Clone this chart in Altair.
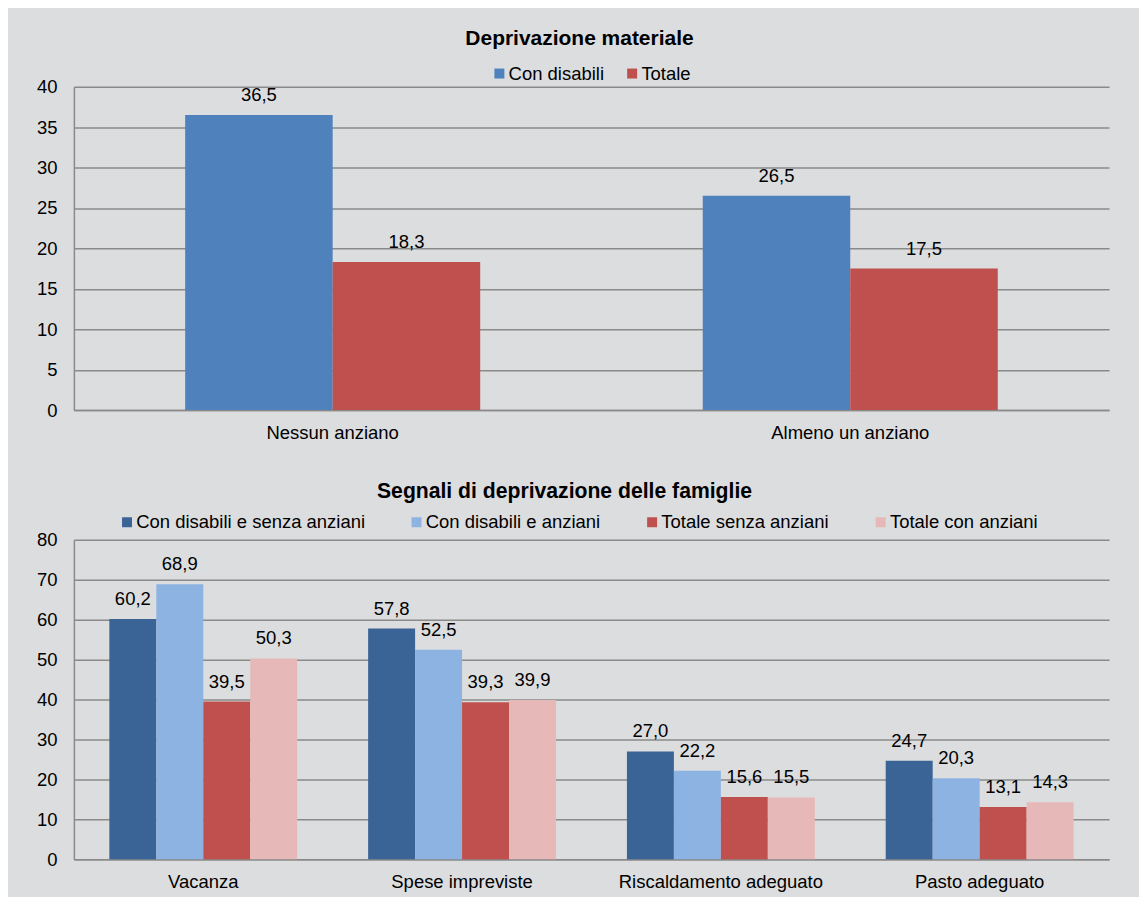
import altair as alt
import pandas as pd

# ---- data ----
top_categories = ["Nessun anziano", "Almeno un anziano"]
top_series = ["Con disabili", "Totale"]
top_con_disabili = [36.5, 26.5]
top_totale = [18.3, 17.5]

bot_categories = ["Vacanza", "Spese impreviste", "Riscaldamento adeguato", "Pasto adeguato"]
bot_series = ["Con disabili e senza anziani", "Con disabili e anziani",
              "Totale senza anziani", "Totale con anziani"]
bot_con_disabili_senza = [60.2, 57.8, 27.0, 24.7]
bot_con_disabili_anziani = [68.9, 52.5, 22.2, 20.3]
bot_totale_senza = [39.5, 39.3, 15.6, 13.1]
bot_totale_con = [50.3, 39.9, 15.5, 14.3]

top_colors = ["#4f81bd", "#c0504d"]
bot_colors = ["#3a6396", "#8db3e2", "#c0504d", "#e6b9b8"]

FONT = "Liberation Sans"
FS = 18.5
GRID = "#8a8a8a"
BG = "#dcdddf"


def make_df(cats, series, columns):
    rows = []
    for s, vals in zip(series, columns):
        for c, v in zip(cats, vals):
            rows.append({"cat": c, "series": s, "value": v,
                         "label": f"{v:.1f}".replace(".", ",")})
    return pd.DataFrame(rows)


def panel(df, cats, series, colors, ymax, ystep, pad_inner, title, title_fs, title_dx,
          title_offset, legend_x, legend_y, col_pad, height):
    base = alt.Chart(df)
    x = alt.X("cat:N", sort=cats, title=None,
              scale=alt.Scale(paddingInner=pad_inner, paddingOuter=pad_inner / 2),
              axis=alt.Axis(labelAngle=0, ticks=False, domain=True, domainColor=GRID,
                            domainWidth=1.5, labelFontSize=FS, labelPadding=13,
                            labelColor="#000000", labelFont=FONT, grid=False,
                            labelLimit=400))
    xo = alt.XOffset("series:N", sort=series,
                     scale=alt.Scale(paddingInner=0, paddingOuter=0))
    y = alt.Y("value:Q", title=None,
              scale=alt.Scale(domain=[0, ymax], nice=False),
              axis=alt.Axis(values=list(range(0, ymax + 1, ystep)), grid=True,
                            gridColor=GRID, gridWidth=1.5, domainColor=GRID,
                            domainWidth=1.5, ticks=False, labelPadding=17,
                            labelFontSize=FS, labelColor="#000000", labelFont=FONT))
    color = alt.Color("series:N", sort=series,
                      scale=alt.Scale(domain=series, range=colors),
                      legend=alt.Legend(title=None, orient="none", legendX=legend_x,
                                        legendY=legend_y, direction="horizontal",
                                        columns=len(series), symbolType="square",
                                        symbolSize=100, symbolStrokeWidth=0,
                                        labelFontSize=FS, labelFont=FONT,
                                        labelColor="#000000", labelOffset=0,
                                        labelLimit=500, columnPadding=col_pad))
    bars = base.mark_bar().encode(x=x, xOffset=xo, y=y, color=color)
    text = base.mark_text(baseline="bottom", dy=-10, fontSize=FS, font=FONT,
                          color="#000000").encode(x=x, xOffset=xo, y=y, text="label:N")
    return alt.layer(bars, text).properties(
        width=1037, height=height,
        title=alt.TitleParams(title, fontSize=title_fs, font=FONT, fontWeight="bold",
                              color="#000000", anchor="middle", dx=title_dx,
                              offset=title_offset))


top_df = make_df(top_categories, top_series, [top_con_disabili, top_totale])
bot_df = make_df(bot_categories, bot_series,
                 [bot_con_disabili_senza, bot_con_disabili_anziani,
                  bot_totale_senza, bot_totale_con])

top = panel(top_df, top_categories, top_series, top_colors, 40, 5, 0.43,
            "Deprivazione materiale", 21, -12, 15, 417, -22.5, 18, 324)
bottom = panel(bot_df, bot_categories, bot_series, bot_colors, 80, 10, 0.274,
               "Segnali di deprivazione delle famiglie", 21.2, -27, 11, 44, -27, 42, 320)

chart = alt.vconcat(top, bottom, spacing=38).resolve_scale(
    color="independent", x="independent", y="independent", xOffset="independent"
).resolve_legend(color="independent").properties(
    background=BG,
    padding={"left": 28, "top": 19, "right": 30, "bottom": 5},
).configure_view(stroke=None)

chart.save("out.html", embed_options={"renderer": "svg", "actions": False})
